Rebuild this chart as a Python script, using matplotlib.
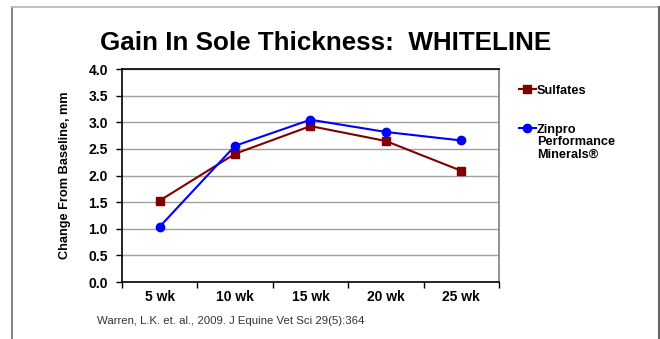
import matplotlib
matplotlib.use("Agg")
import matplotlib.pyplot as plt
from matplotlib.lines import Line2D

plt.rcParams['font.family'] = ['Liberation Sans', 'DejaVu Sans']

# data
weeks = ["5 wk", "10 wk", "15 wk", "20 wk", "25 wk"]
sulfates = [1.53, 2.41, 2.93, 2.65, 2.09]
zinpro = [1.04, 2.56, 3.05, 2.82, 2.66]
y_ticks = [0.0, 0.5, 1.0, 1.5, 2.0, 2.5, 3.0, 3.5, 4.0]

fig = plt.figure(figsize=(6.6, 3.39), dpi=100)
ax = fig.add_axes([0.1848, 0.168, 0.5712, 0.628])

x = list(range(len(weeks)))
ax.plot(x, sulfates, color="#800000", marker="s", markersize=6, lw=1.5,
        label="Sulfates")
ax.plot(x, zinpro, color="#0000FF", marker="o", markersize=6, lw=1.5,
        label="Zinpro\nPerformance\nMinerals®")

ax.set_xlim(-0.5, 4.5)
ax.set_ylim(0, 4.0)
ax.set_yticks(y_ticks)
ax.set_yticklabels([f"{v:.1f}" for v in y_ticks], fontweight="bold", fontsize=10)
ax.set_xticks(x)
ax.set_xticklabels(weeks, fontweight="bold", fontsize=10)
ax.set_xticks([i + 0.5 for i in range(-1, len(weeks))], minor=True)
ax.tick_params(axis="x", which="major", length=0, pad=6)
ax.tick_params(axis="x", which="minor", length=4, width=1, direction="out")
ax.tick_params(axis="y", length=4, width=1, direction="out", pad=6)

ax.yaxis.grid(True, color="#a0a0a0", lw=1)
ax.set_axisbelow(True)
for s in ["left", "bottom", "top"]:
    ax.spines[s].set_color("black")
    ax.spines[s].set_linewidth(1.2)
ax.spines["right"].set_color("#808080")
ax.spines["right"].set_linewidth(1.2)

ax.set_ylabel("Change From Baseline, mm", fontweight="bold", fontsize=9.2,
              labelpad=13)

fig.text(0.494, 0.872, "Gain In Sole Thickness:  WHITELINE", ha="center",
         va="center", fontsize=18.7, fontweight="bold")

leg = ax.legend(loc="upper left", bbox_to_anchor=(1.04, 0.95), frameon=False,
                prop={"weight": "bold", "size": 9.2}, handlelength=1.3,
                handletextpad=0.1, labelspacing=2.1, borderaxespad=0)
for col in leg._legend_handle_box.get_children():
    for item in col.get_children():
        item.align = "top"
for t in leg.get_texts():
    t.set_linespacing(1.08)
for h in leg.legend_handles:
    h.set_markersize(6)

fig.text(0.147, 0.053, "Warren, L.K. et. al., 2009. J Equine Vet Sci 29(5):364",
         fontsize=8.2, color="#333333", ha="left", va="center")

# outer frame of the slide
fig.add_artist(Line2D([12 / 660, 12 / 660], [0, 1 - 7 / 339], color="#777777", lw=1.3))
fig.add_artist(Line2D([12 / 660, 659 / 660], [1 - 7 / 339, 1 - 7 / 339], color="#bbbbbb", lw=1.3))
fig.add_artist(Line2D([659 / 660, 659 / 660], [0, 1 - 7 / 339], color="#666666", lw=1.5))

fig.savefig("out.png", dpi=100)
